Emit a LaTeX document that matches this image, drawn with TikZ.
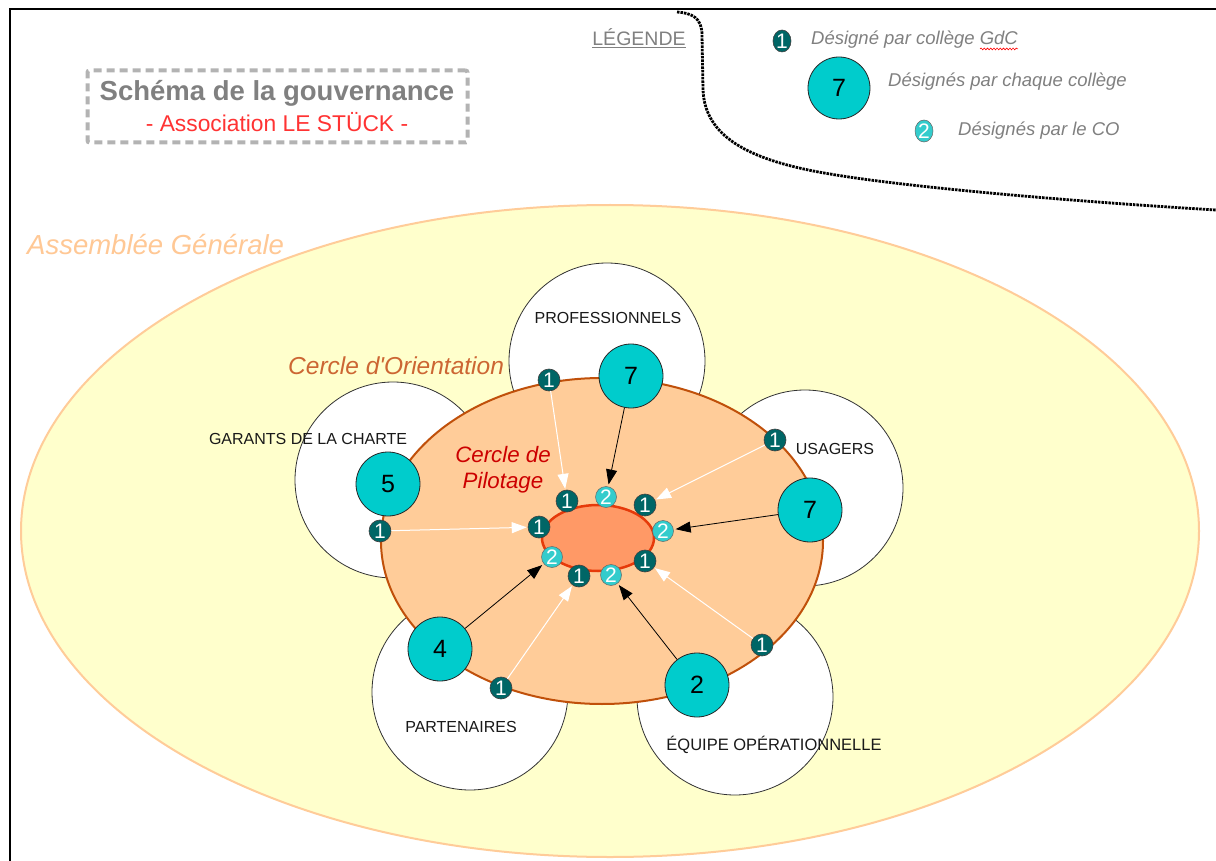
\documentclass[tikz,border=0pt]{standalone}
\usepackage{fontspec}
\setmainfont{Liberation Sans}[Ligatures=TeXOff]
\usetikzlibrary{arrows.meta,shapes.geometric,decorations.pathmorphing}
\definecolor{agfill}{HTML}{FFFFCC}
\definecolor{agline}{HTML}{FFCC99}
\definecolor{cofill}{HTML}{FFCC99}
\definecolor{coline}{HTML}{C0500A}
\definecolor{cpfill}{HTML}{FF9966}
\definecolor{cpline}{HTML}{E63A0A}
\definecolor{bigteal}{HTML}{00CCCC}
\definecolor{darkteal}{HTML}{006666}
\definecolor{midteal}{HTML}{33CCCC}
\definecolor{titlegray}{HTML}{808080}
\definecolor{boxgray}{HTML}{B3B3B3}
\definecolor{subred}{HTML}{FF3333}
\definecolor{cotext}{HTML}{CC6633}
\definecolor{cptext}{HTML}{CC0000}
\definecolor{legtext}{HTML}{808080}
\definecolor{agtext}{HTML}{FFC895}
\newcommand\myfs[1]{\fontsize{#1}{#1}\selectfont}
\tikzset{
  college/.style={circle, draw=black!80, line width=0.8pt, fill=white, minimum size=196pt, inner sep=0pt},
  collabel/.style={font=\myfs{16}, text=black!90, inner sep=0pt},
  bignum/.style={circle, draw=black!85, line width=0.8pt, fill=bigteal, minimum size=64pt, inner sep=0pt, font=\myfs{25}},
  onemark/.style={circle, draw=black!75, line width=0.6pt, fill=darkteal, minimum size=22pt, inner sep=0pt, text=white, font=\myfs{21}},
  twomark/.style={circle, draw=black!60, line width=0.5pt, fill=midteal, minimum size=21pt, inner sep=0pt, text=white, font=\myfs{21}},
  legone/.style={onemark, ellipse, minimum width=18pt, minimum height=22pt},
  legtwo/.style={twomark, ellipse, minimum width=18pt, minimum height=22pt},
  legtxt/.style={anchor=west, inner sep=0pt, text=legtext, font=\myfs{18.5}\itshape},
  warrow/.style={draw=white, line width=1pt, -{Triangle[length=15pt,width=11pt,fill=white]}, shorten >=1pt},
  barrow/.style={draw=black, line width=0.8pt, -{Triangle[length=15pt,width=11pt]}, shorten >=2pt}
}
\begin{document}
\begin{tikzpicture}[x=1pt,y=-1pt]
\useasboundingbox (0,0) rectangle (1216,861);
\fill[white] (0,0) rectangle (1216,861);
% frame
\draw[line width=1.3pt] (10,861) -- (10,9) -- (1216,9);
% title box
\node[draw=boxgray, line width=4pt, dash pattern=on 8pt off 5pt, rounded corners=2pt,
      minimum width=380pt, minimum height=72pt] (tbox) at (277.5,106.5) {};
\node[font=\myfs{27.5}\bfseries, text=titlegray, inner sep=0pt] (title) at (277,93) {Schéma de la gouvernance};
\node[font=\myfs{22.8}, text=subred, inner sep=0pt] (subtitle) at (277,122) {- Association LE STÜCK -};
% legend
\node[font=\myfs{19.5}, text=legtext, inner sep=0pt] (leg) at (639,38) {\underline{LÉGENDE}};
\draw[line width=2.8pt, dash pattern=on 2.5pt off 1pt]
  (677,12) .. controls (692,13) and (702,18) .. (702,35) -- (703,90)
  .. controls (705,135) and (745,160) .. (830,174)
  .. controls (900,186) and (1050,200) .. (1216,210);
\node[legone] (l1) at (782,41) {1};
\node[legtxt] (lt1) at (811,40) {Désigné par collège GdC};
\draw[red, line width=0.6pt, decorate, decoration={snake, amplitude=0.9pt, segment length=3.2pt}]
  ([xshift=-38pt]lt1.south east) -- (lt1.south east);
\node[bignum, minimum size=62pt] (l7) at (839,88) {7};
\node[legtxt] (lt2) at (888,82) {Désignés par chaque collège};
\node[legtwo] (l2) at (924,131) {2};
\node[legtxt] (lt3) at (958,131) {Désignés par le CO};
% Assemblee generale
\node[ellipse, draw=agline, line width=2pt, fill=agfill, minimum width=1178pt, minimum height=652pt] (ag) at (610,531) {};
\node[anchor=west, inner sep=0pt, text=agtext, font=\myfs{27.5}\itshape] (agl) at (27,245) {Assemblée Générale};
% colleges
\node[college] (cpro) at (607,361) {};
\node[college] (cgar) at (393,480) {};
\node[college] (cusa) at (805,488) {};
\node[college] (cpar) at (470,692) {};
\node[college] (cequ) at (735,697) {};
\node[collabel] (tpro) at (608,318) {PROFESSIONNELS};
\node[collabel] (tgar) at (308,439) {GARANTS DE LA CHARTE};
\node[collabel] (tusa) at (835,449) {USAGERS};
\node[collabel] (tpar) at (461,727) {PARTENAIRES};
\node[collabel, font=\myfs{16.5}] (tequ) at (774,745) {ÉQUIPE OPÉRATIONNELLE};
% cercle d'orientation
\node[ellipse, draw=coline, line width=2pt, fill=cofill, minimum width=442pt, minimum height=326pt] (co) at (602,541) {};
\node[anchor=west, inner sep=0pt, text=cotext, font=\myfs{24.5}\itshape] (col) at (288,366) {Cercle d'Orientation};
% cercle de pilotage
\node[ellipse, draw=cpline, line width=2.5pt, fill=cpfill, minimum width=112pt, minimum height=66pt] (cp) at (598,538) {};
\node[align=center, inner sep=0pt, text=cptext, font=\myfs{22.3}\itshape, execute at begin node=\setlength{\baselineskip}{26pt}] (cpl) at (503,470) {Cercle de\\Pilotage};
% outer markers
\node[onemark] (o1) at (549,380) {1};
\node[onemark] (o2) at (775,440) {1};
\node[onemark] (o3) at (380,531) {1};
\node[onemark] (o4) at (762,645) {1};
\node[onemark] (o5) at (501,688) {1};
% inner markers
\node[onemark] (i1) at (567,501) {1};
\node[twomark] (i2) at (606,497) {2};
\node[onemark] (i3) at (645,505) {1};
\node[twomark] (i4) at (663,531) {2};
\node[onemark] (i5) at (645,561) {1};
\node[twomark] (i6) at (611,575) {2};
\node[onemark] (i7) at (579,576) {1};
\node[twomark] (i8) at (552,557) {2};
\node[onemark] (i9) at (539,527) {1};
% big numbers
\node[bignum] (bpro) at (631,376) {7};
\node[bignum] (bgar) at (388,484) {5};
\node[bignum] (busa) at (810,510) {7};
\node[bignum] (bpar) at (440,649) {4};
\node[bignum] (bequ) at (697,685) {2};
% arrows
\draw[warrow] (o1) -- (i1);
\draw[warrow] (o2) -- (i3);
\draw[warrow] (o3) -- (i9);
\draw[warrow] (o4) -- (i5);
\draw[warrow] (o5) -- (i7);
\draw[barrow] (bpro) -- (i2);
\draw[barrow] (busa) -- (i4);
\draw[barrow] (bpar) -- (i8);
\draw[barrow] (bequ) -- (i6);
\end{tikzpicture}
\end{document}
